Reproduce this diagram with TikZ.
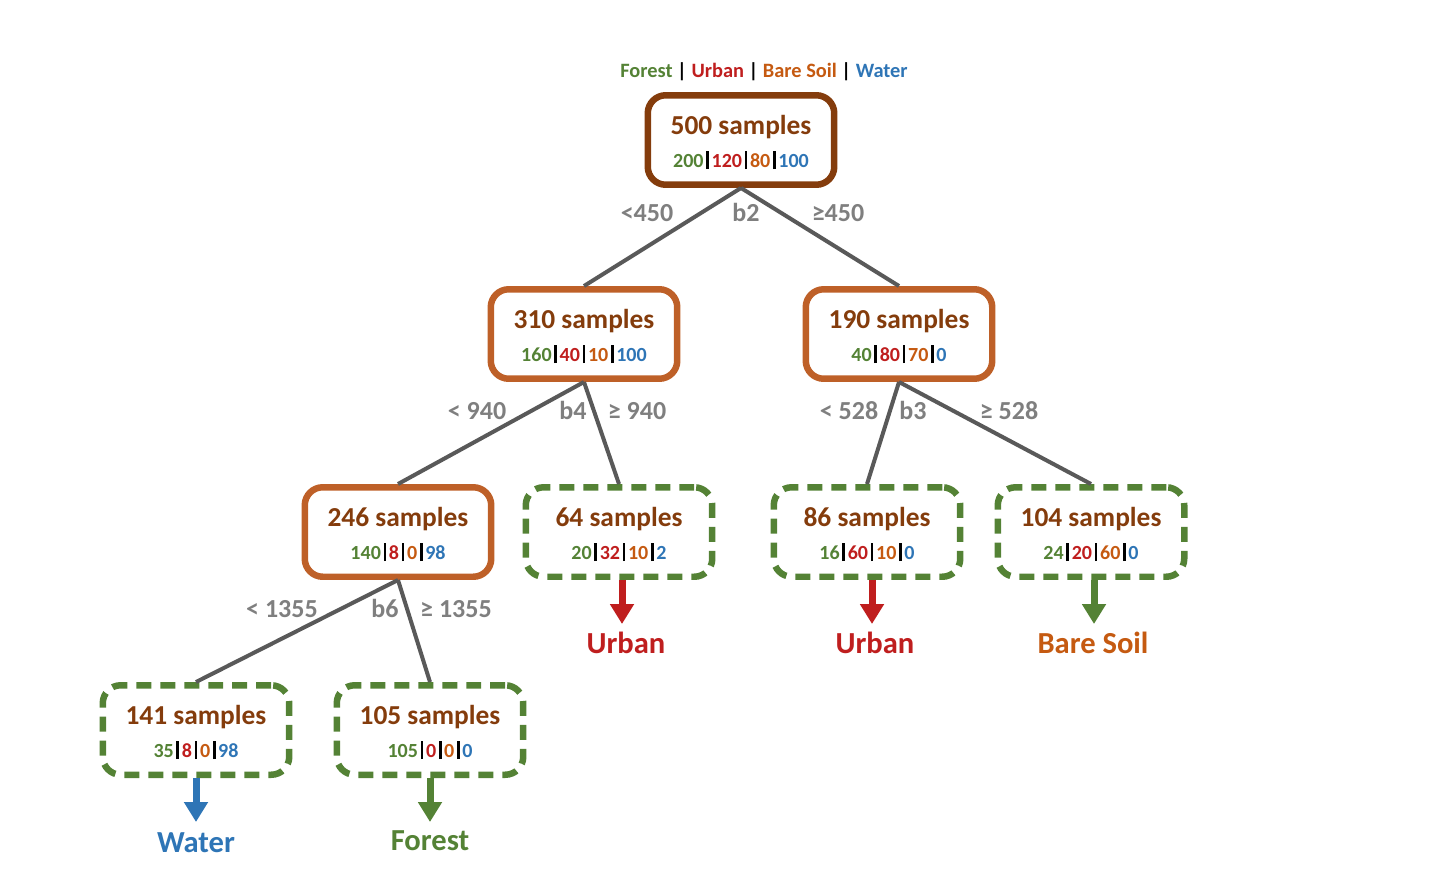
\documentclass[tikz,border=0pt]{standalone}
\usepackage{fontspec}
\setmainfont{Carlito}
\usetikzlibrary{arrows.meta,calc}
\definecolor{cbrown}{HTML}{843C0C}
\definecolor{corange}{HTML}{C55A11}
\definecolor{cborder}{HTML}{BE6028}
\definecolor{cgreen}{HTML}{548235}
\definecolor{cred}{HTML}{BF1E1E}
\definecolor{cblue}{HTML}{2E75B6}
\definecolor{cedge}{HTML}{595959}
\definecolor{clabel}{HTML}{7F7F7F}
\newcommand\cbar{\hspace{0.13em}\rule[-0.1em]{0.14em}{0.88em}\hspace{0.13em}}
\newcommand\cnts[4]{\textcolor{cgreen}{#1}\cbar\textcolor{cred}{#2}\cbar\textcolor{corange}{#3}\cbar\textcolor{cblue}{#4}}
\begin{document}
\begin{tikzpicture}[x=0.02cm,y=-0.02cm,
  box/.style={line width=0.13cm, rounded corners=0.36cm, minimum width=3.73cm, minimum height=1.79cm, inner sep=0pt},
  rootbox/.style={box, draw=cbrown},
  innerbox/.style={box, draw=cborder},
  leafbox/.style={box, draw=cgreen, dash pattern=on 0.3cm off 0.18cm},
  title/.style={anchor=base, font=\bfseries\fontsize{15.6}{18}\selectfont, text=cbrown},
  counts/.style={anchor=base, font=\bfseries\fontsize{11.4}{13}\selectfont},
  elabel/.style={anchor=base, font=\bfseries\fontsize{14.8}{17}\selectfont, text=clabel},
  edge/.style={draw=cedge, line width=0.08cm},
  leaflabel/.style={anchor=base, font=\bfseries\fontsize{17.4}{20}\selectfont},
  leafarrow/.style={draw=#1, line width=0.14cm, -{Triangle[length=0.4cm,width=0.46cm]}},
]
\useasboundingbox (0,0) rectangle (1452,882);

% header
\node[anchor=base, font=\bfseries\fontsize{11.6}{14}\selectfont] (hdr) at (764,77)
  {\textcolor{cgreen}{Forest} | \textcolor{cred}{Urban} | \textcolor{corange}{Bare Soil} | \textcolor{cblue}{Water}};

% boxes
\node[rootbox]  (r)   at (741,140) {};
\node[innerbox] (a)   at (584,334) {};
\node[innerbox] (b)   at (899,334) {};
\node[innerbox] (c)   at (398,532) {};
\node[leafbox]  (d)   at (619,532) {};
\node[leafbox]  (e)   at (867,532) {};
\node[leafbox]  (f)   at (1091,532) {};
\node[leafbox]  (g)   at (196,730) {};
\node[leafbox]  (h)   at (430,730) {};

% box texts
\foreach \n/\t in {r/500,a/310,b/190,c/246,d/64,e/86,f/104,g/141,h/105}{
  \node[title] (\n t) at ($(\n)+(0,-6)$) {\t\ samples};
}
\node[counts] (rc) at ($(r)+(0,27)$) {\cnts{200}{120}{80}{100}};
\node[counts] (ac) at ($(a)+(0,27)$) {\cnts{160}{40}{10}{100}};
\node[counts] (bc) at ($(b)+(0,27)$) {\cnts{40}{80}{70}{0}};
\node[counts] (cc) at ($(c)+(0,27)$) {\cnts{140}{8}{0}{98}};
\node[counts] (dc) at ($(d)+(0,27)$) {\cnts{20}{32}{10}{2}};
\node[counts] (ec) at ($(e)+(0,27)$) {\cnts{16}{60}{10}{0}};
\node[counts] (fc) at ($(f)+(0,27)$) {\cnts{24}{20}{60}{0}};
\node[counts] (gc) at ($(g)+(0,27)$) {\cnts{35}{8}{0}{98}};
\node[counts] (hc) at ($(h)+(0,27)$) {\cnts{105}{0}{0}{0}};

% edges
\draw[edge] (r.south) -- (a.north);
\draw[edge] (r.south) -- (b.north);
\draw[edge] (a.south) -- (c.north);
\draw[edge] (a.south) -- (d.north);
\draw[edge] (b.south) -- (e.north);
\draw[edge] (b.south) -- (f.north);
\draw[edge] (c.south) -- (g.north);
\draw[edge] (c.south) -- (h.north);

% edge labels
\node[elabel] (l1a) at (647,221) {<450};
\node[elabel] (l1b) at (746,221) {b2};
\node[elabel] (l1c) at (838,221) {≥450};
\node[elabel] (l2a) at (477,419) {< 940};
\node[elabel] (l2b) at (573,419) {b4};
\node[elabel] (l2c) at (637,419) {≥ 940};
\node[elabel] (l3a) at (849,419) {< 528};
\node[elabel] (l3b) at (913,419) {b3};
\node[elabel] (l3c) at (1009,419) {≥ 528};
\node[elabel] (l4a) at (282,617) {< 1355};
\node[elabel] (l4b) at (385,617) {b6};
\node[elabel] (l4c) at (456,617) {≥ 1355};

% leaf labels and arrows
\node[leaflabel, text=cred]    (od) at (626,653) {Urban};
\node[leaflabel, text=cred]    (oe) at (875,653) {Urban};
\node[leaflabel, text=corange] (of) at (1093,653) {Bare Soil};
\node[leaflabel, text=cblue]   (og) at (196,852) {Water};
\node[leaflabel, text=cgreen]  (oh) at (430,850) {Forest};

\coordinate (td) at (622,624);
\coordinate (te) at (872,624);
\coordinate (tf) at (1094,624);
\coordinate (tg) at (196,822);
\coordinate (th) at (430,822);
\draw[leafarrow=cred]   ($(d.south)+(3,0)$) -- (td);
\draw[leafarrow=cred]   ($(e.south)+(5,0)$) -- (te);
\draw[leafarrow=cgreen] ($(f.south)+(3,0)$) -- (tf);
\draw[leafarrow=cblue]  (g.south) -- (tg);
\draw[leafarrow=cgreen] (h.south) -- (th);
\end{tikzpicture}
\end{document}
